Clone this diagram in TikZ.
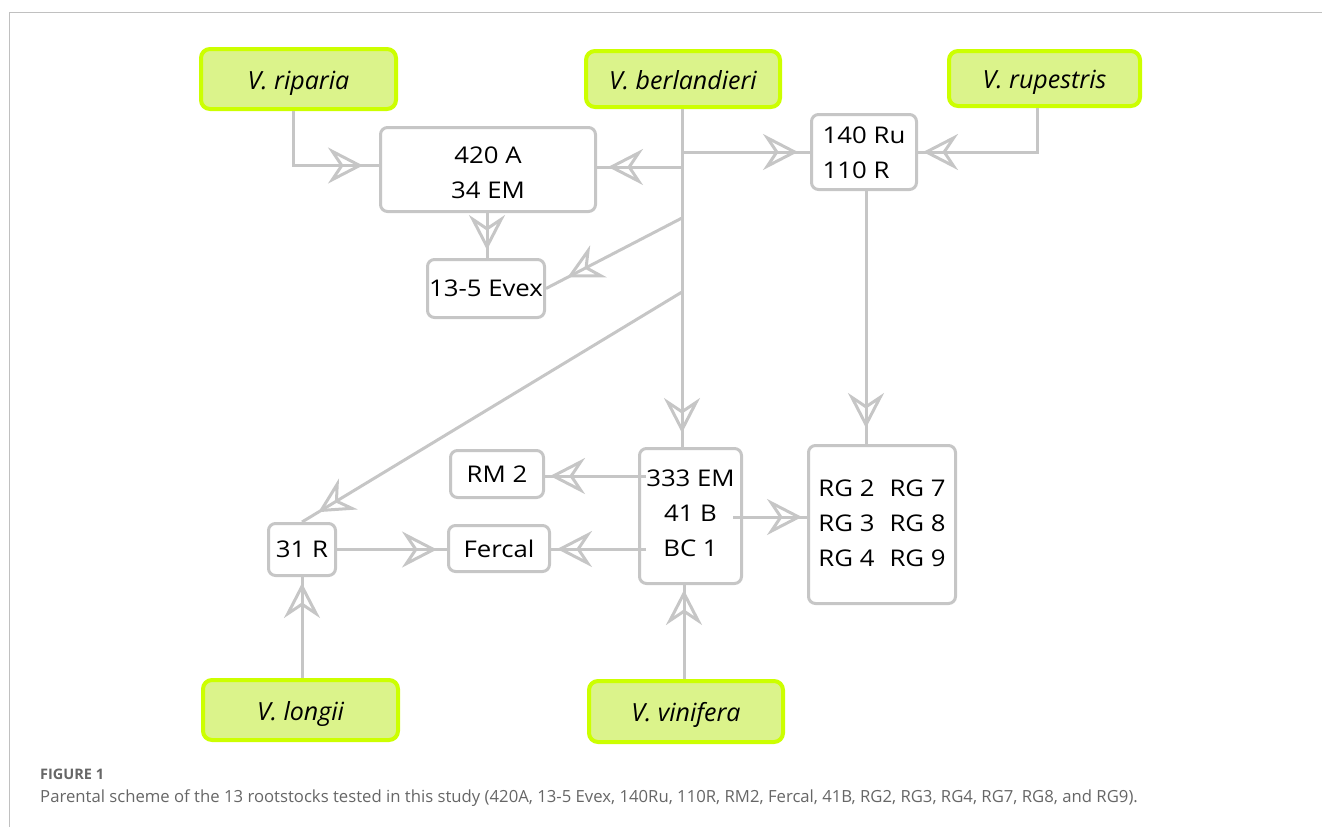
\documentclass[tikz,border=0pt]{standalone}
\usepackage{fontspec}
\setmainfont{Open Sans}
\newfontfamily\boxfont[FakeStretch=1.12]{Open Sans}
\newfontfamily\capfont{Open Sans}
\usetikzlibrary{arrows.meta,decorations.markings}
\definecolor{lgray}{HTML}{C6C6C6}
\definecolor{limef}{HTML}{DBF38B}
\definecolor{limeb}{HTML}{CCFF00}
\definecolor{capgray}{HTML}{666666}
\definecolor{framegray}{HTML}{C0C0C0}
\tikzset{
  rbox/.style={draw=lgray, line width=3pt, rounded corners=7pt, fill=white, inner sep=0pt,
    font=\boxfont\fontsize{23}{35}\selectfont, align=center},
  spec/.style={draw=limeb, fill=limef, line width=4pt, rounded corners=9pt, inner sep=0pt,
    font=\itshape\fontsize{25}{30}\selectfont, text height=25pt, text depth=5pt},
  conn/.style={draw=lgray, line width=3pt},
  tipat/.style={postaction={decorate}, decoration={markings,
    mark=at position -#1 with {\arrow[lgray, line width=3pt]{Stealth[open, length=35pt, width=36pt, inset=12pt]}}}}
}
\begin{document}
\begin{tikzpicture}[x=1pt, y=-1pt]
\useasboundingbox (0,0) rectangle (1322,827);
\draw[framegray, line width=1pt] (1322,12) -- (9,12) -- (9,827);

% species
\node[spec, minimum width=195pt, minimum height=60pt] (rip) at (298.5,79) {V. riparia};
\node[spec, minimum width=194pt, minimum height=56pt] (ber) at (683,79) {V. berlandieri};
\node[spec, minimum width=191pt, minimum height=55pt] (rup) at (1044.5,78.5) {V. rupestris};
\node[spec, minimum width=195pt, minimum height=60pt] (lon) at (300.5,710) {V. longii};
\node[spec, minimum width=194pt, minimum height=61pt] (vin) at (686,711.5) {V. vinifera};

% rootstocks
\node[rbox, minimum width=215pt, minimum height=84pt, text height=62pt, text depth=5pt] (a420) at (488,169.5) {420 A\\34 EM};
\node[rbox, minimum width=105pt, minimum height=75pt, align=left, text height=57pt, text depth=5pt] (r140) at (864,152) {140 Ru\\110 R};
\node[rbox, minimum width=117pt, minimum height=58pt] (evex) at (486,288.5) {13-5 Evex};
\node[rbox, minimum width=102pt, minimum height=135pt, text height=85pt, text depth=5pt] (e333) at (690.5,516) {333 EM\\41 B\\BC 1};
\node[rbox, minimum width=93pt, minimum height=47pt] (rm2) at (497,474) {RM 2};
\node[rbox, minimum width=101pt, minimum height=46pt] (fer) at (499,548.5) {Fercal};
\node[rbox, minimum width=67pt, minimum height=52pt] (r31) at (302,549.5) {31 R};
\node[rbox, minimum width=147pt, minimum height=158pt] (rg) at (882,524.5)
  {\begin{tabular}{@{}l@{\hspace{15pt}}l@{}}RG 2 & RG 7\\ RG 3 & RG 8\\ RG 4 & RG 9\end{tabular}};

% junctions
\coordinate (j1) at (682,152);
\coordinate (j2) at (682,167);
\coordinate (j3) at (682,218);
\coordinate (j4) at (682,292);
\coordinate (s1) at (646,476);
\coordinate (s2) at (646,549);
\coordinate (s3) at (733,517);

% connectors
\draw[conn, tipat=14pt] ([xshift=-1pt]ber.south) -- ([xshift=-1pt]ber.south |- e333.north);
\draw[conn, tipat=12pt] (j1) -- (j1 -| r140.west);
\draw[conn, tipat=11pt] (j2) -- (j2 -| a420.east);
\draw[conn, tipat=24pt] (j3) -- (evex.east);
\draw[conn, tipat=19pt] (j4) -- (r31.north);
\draw[conn, tipat=16pt] ([xshift=-5pt]rip.south) |- ([yshift=4pt]a420.west);
\draw[conn, tipat=5pt] ([xshift=-7pt]rup.south) |- (r140.east);
\draw[conn, tipat=16pt] ([xshift=2pt]r140.south) -- ([xshift=2pt]r140.south |- rg.north);
\draw[conn, tipat=8pt] ([xshift=-1pt]a420.south) -- ([xshift=-1pt]a420.south |- evex.north);
\draw[conn, tipat=5pt] (s1) -- (s1 -| rm2.east);
\draw[conn, tipat=6pt] (s2) -- (s2 -| fer.east);
\draw[conn, tipat=5pt] (s3) -- (s3 -| rg.west);
\draw[conn, tipat=10pt] (r31.east) -- (r31.east -| fer.west);
\draw[conn, tipat=6pt] (r31.south |- lon.north) -- (r31.south);
\draw[conn, tipat=5pt] ([xshift=-2pt]vin.north) -- ([xshift=-2pt]vin.north |- e333.south);

% caption
\node[anchor=base west, inner sep=0pt, text=capgray, font=\capfont\bfseries\fontsize{14.5}{16}\selectfont] (figlab) at (40,779) {FIGURE 1};
\node[anchor=base west, inner sep=0pt, text=capgray, font=\capfont\fontsize{16.7}{20}\selectfont] (cap) at (40,802) {Parental scheme of the 13 rootstocks tested in this study (420A, 13-5 Evex, 140Ru, 110R, RM2, Fercal, 41B, RG2, RG3, RG4, RG7, RG8, and RG9).};
\end{tikzpicture}
\end{document}
